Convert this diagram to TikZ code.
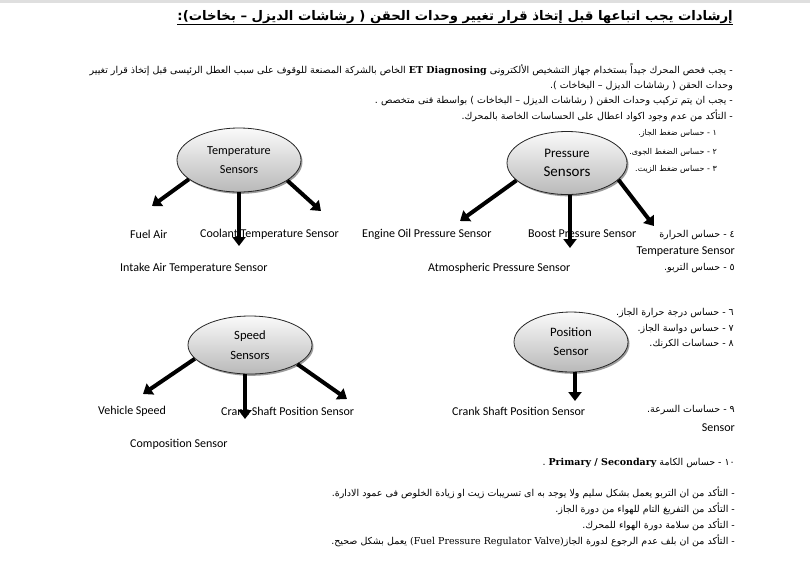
\documentclass[tikz,border=0pt]{standalone}
\usepackage{fontspec}
\setmainfont{Carlito}
\newfontfamily\arabicfont[Script=Arabic]{DejaVu Sans}
\newfontfamily\latserif{DejaVu Serif}
\TeXXeTstate=1
\usetikzlibrary{shapes.geometric,shadows,arrows.meta}
\begin{document}
\begin{tikzpicture}[x=1pt,y=-1pt,
  sensor/.style={ellipse, draw=black!85, line width=0.8pt, top color=gray!4, bottom color=gray!55,
    drop shadow={shadow xshift=1.5pt,shadow yshift=-1.8pt,fill=black!55,opacity=0.7},
    inner sep=0pt, align=center},
  lbl/.style={anchor=west, inner sep=0pt, font=\fontsize{12}{14}\selectfont},
  ar/.style={anchor=east, inner sep=0pt, font=\arabicfont\fontsize{9.5}{11}\selectfont},
  arsmall/.style={ar, font=\arabicfont\fontsize{8}{10}\selectfont},
  bigarrow/.style={line width=4pt, -{Triangle[length=9pt,width=13pt]}}
]
\useasboundingbox (0,0) rectangle (810,566);
\fill[white] (0,0) rectangle (810,566);
\fill[gray!25] (0,0) rectangle (810,3);

% title
\node[anchor=east, inner sep=0pt, font=\arabicfont\bfseries\fontsize{13.2}{15}\selectfont] (title) at (733,17)
  {\beginR إرشادات يجب اتباعها قبل إتخاذ قرار تغيير وحدات الحقن ( رشاشات الديزل – بخاخات):\endR};
\draw[line width=1pt] ([yshift=-1pt]title.south west) -- ([yshift=-1pt]title.south east);

% intro lines
\node[ar] (l1) at (733,70) {\beginR - يجب فحص المحرك جيداً بستخدام جهاز التشخيص الألكترونى \beginL{\latserif\bfseries ET Diagnosing}\endL{} الخاص بالشركة المصنعة للوقوف على سبب العطل الرئيسى قبل إتخاذ قرار تغيير\endR};
\node[ar] (l2) at (733,86) {\beginR وحدات الحقن ( رشاشات الديزل – البخاخات ).\endR};
\node[ar] (l3) at (733,101) {\beginR - يجب ان يتم تركيب وحدات الحقن ( رشاشات الديزل – البخاخات ) بواسطة فنى متخصص .\endR};
\node[ar] (l4) at (733,116) {\beginR - التأكد من عدم وجود اكواد اعطال على الحساسات الخاصة بالمحرك.\endR};

% numbered list
\node[arsmall] (n1) at (717,133) {\beginR ١ - حساس ضغط الجاز.\endR};
\node[arsmall] (n2) at (717,152) {\beginR ٢ - حساس الضغط الجوى.\endR};
\node[arsmall] (n3) at (717,169) {\beginR ٣ - حساس ضغط الزيت.\endR};
\node[ar] (n4) at (735,235) {\beginR ٤ - حساس الحرارة\endR};
\node[lbl, anchor=east] (n4e) at (735,252) {Temperature Sensor};
\node[ar] (n5) at (735,268) {\beginR ٥ - حساس التربو.\endR};
\node[ar] (n6) at (734,313) {\beginR ٦ - حساس درجة حرارة الجاز.\endR};
\node[ar] (n7) at (734,329) {\beginR ٧ - حساس دواسة الجاز.\endR};
\node[ar] (n8) at (734,344) {\beginR ٨ - حساسات الكرنك.\endR};
\node[ar] (n9) at (735,410) {\beginR ٩ - حساسات السرعة.\endR};
\node[lbl, anchor=east] (n9e) at (735,428) {Sensor};
\node[ar] (n10) at (735,463) {\beginR ١٠ - حساس الكامة \beginL{\latserif\bfseries Primary / Secondary}\endL{} .\endR};

% bottom lines
\node[ar] (b1) at (735,493) {\beginR - التأكد من ان التربو يعمل بشكل سليم ولا يوجد به اى تسريبات زيت او زيادة الخلوص فى عمود الادارة.\endR};
\node[ar] (b2) at (735,509) {\beginR - التأكد من التفريغ التام للهواء من دورة الجاز.\endR};
\node[ar] (b3) at (735,525) {\beginR - التأكد من سلامة دورة الهواء للمحرك.\endR};
\node[ar] (b4) at (735,541) {\beginR - التأكد من ان بلف عدم الرجوع لدورة الجاز\beginL{\latserif (Fuel Pressure Regulator Valve)}\endL{} يعمل بشكل صحيح.\endR};

% ellipses
\node[sensor, minimum width=124pt, minimum height=64pt, font=\fontsize{12.2}{19}\selectfont] (temp) at (239,160) {Temperature\\Sensors};
\node[sensor, minimum width=120pt, minimum height=63pt, font=\fontsize{13}{19}\selectfont] (pres) at (567,163) {Pressure\\{\fontsize{15}{19}\selectfont Sensors}};
\node[sensor, minimum width=124pt, minimum height=58pt, font=\fontsize{12.6}{20}\selectfont] (speed) at (250,345) {Speed\\Sensors};
\node[sensor, minimum width=114pt, minimum height=60pt, font=\fontsize{12.8}{19}\selectfont] (pos) at (571,342) {Position\\Sensor};

% labels
\node[lbl] (fuelair) at (130,234) {Fuel Air};
\node[lbl] (coolant) at (200,234) {Coolant Temperature Sensor};
\node[lbl] (intake) at (120,268) {Intake Air Temperature Sensor};
\node[lbl] (oil) at (362,234) {Engine Oil Pressure Sensor};
\node[lbl] (boost) at (528,234) {Boost Pressure Sensor};
\node[lbl] (atm) at (428,268) {Atmospheric Pressure Sensor};
\node[lbl] (vehicle) at (98,411) {Vehicle Speed};
\node[lbl] (crank1) at (221,411) {Crank Shaft Position Sensor};
\node[lbl] (compo) at (130,444) {Composition Sensor};
\node[lbl] (crank2) at (452,411) {Crank Shaft Position Sensor};

% arrow tips
\coordinate (t1) at (152,206);
\coordinate (t2) at (239,246);
\coordinate (t3) at (321,211);
\coordinate (p1) at (460,221);
\coordinate (p2) at (570,248);
\coordinate (p3) at (654,226);
\coordinate (s1) at (143,394);
\coordinate (s2) at (245,419);
\coordinate (s3) at (347,399);
\coordinate (q1) at (575,401);

% arrows
\draw[bigarrow] (temp.201) -- (t1);
\draw[bigarrow] (temp.south) -- (t2);
\draw[bigarrow] (temp.337) -- (t3);
\draw[bigarrow] (pres.199) -- (p1);
\draw[bigarrow] ([xshift=3pt]pres.south) -- (p2);
\draw[bigarrow] (pres.342) -- (p3);
\draw[bigarrow] (speed.194) -- (s1);
\draw[bigarrow] ([xshift=-5pt]speed.south) -- (s2);
\draw[bigarrow] (speed.338) -- (s3);
\draw[bigarrow] ([xshift=4pt]pos.south) -- (q1);
\end{tikzpicture}
\end{document}
